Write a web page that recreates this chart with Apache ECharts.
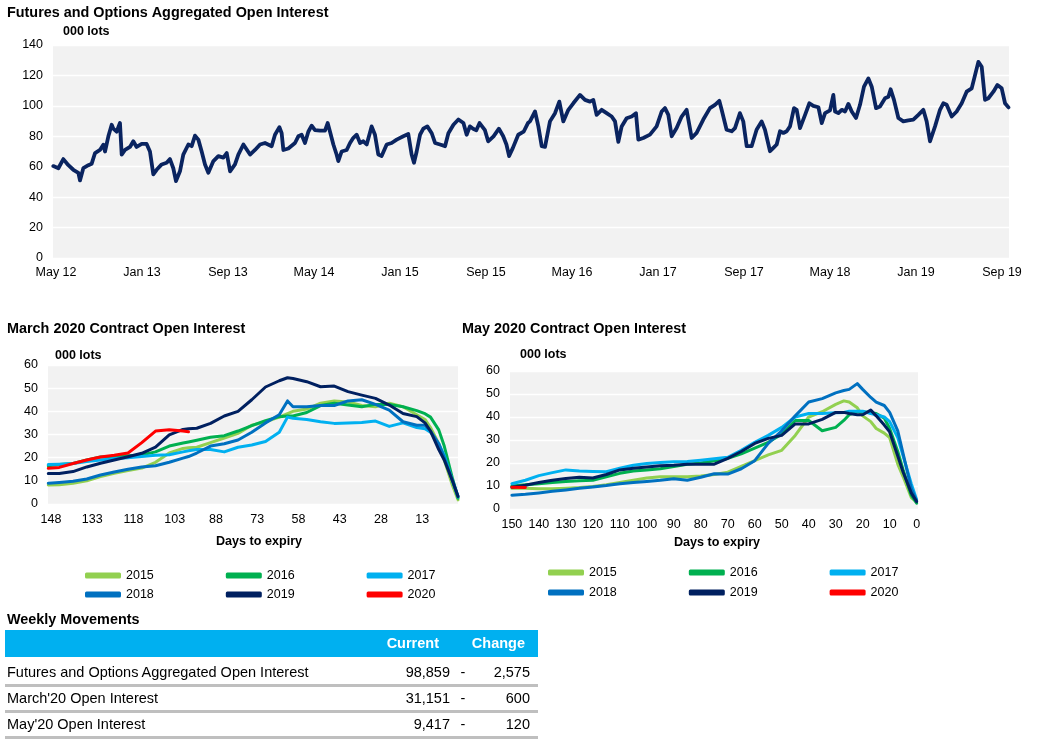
<!DOCTYPE html>
<html>
<head>
<meta charset="utf-8">
<script src="https://cdn.jsdelivr.net/npm/echarts@6/dist/echarts.min.js"></script>
<style>
  html, body { margin: 0; padding: 0; background: #fff; }
  #chart { position: absolute; left: 0; top: 0; width: 1042px; height: 749px; }
  #wm { position: absolute; left: 0; top: 0; width: 1042px; height: 749px; pointer-events: none;
        font-family: 'Liberation Sans', Arial, Helvetica, sans-serif; color: #000; }
  #wm div { position: absolute; white-space: nowrap; }
</style>
</head>
<body>
<div id="chart"></div>
<div id="wm"></div>
<script>
// ---------------- DATA ----------------
// Top chart: months since May 2012 and open interest (000 lots)
const oiMonth = [-0.25,0.22,0.68,1.15,1.61,2.08,2.23,2.54,3.01,3.32,3.63,4.09,4.40,4.56,4.87,5.18,5.33,5.64,5.95,6.11,6.42,6.88,7.19,7.50,7.97,8.43,8.74,9.05,9.36,9.83,10.29,10.6,10.91,11.16,11.53,11.84,12.31,12.62,12.93,13.24,13.55,13.86,14.17,14.64,15.1,15.57,15.88,16.19,16.65,16.96,17.43,18.05,18.51,18.98,19.44,20.06,20.37,20.78,20.99,21.15,21.61,22.23,22.54,22.85,23.16,23.47,23.78,24.09,24.56,25.02,25.27,25.49,25.8,26.1,26.26,26.57,27.04,27.35,27.66,27.97,28.28,28.59,28.9,29.36,29.67,29.98,30.29,30.76,31.22,31.69,32.31,32.77,33.08,33.3,33.55,33.86,34.17,34.54,34.95,35.26,35.72,36.19,36.5,36.97,37.43,37.9,38.2,38.5,38.8,39.1,39.4,39.9,40.2,40.7,41.2,41.6,41.9,42.15,42.5,43.0,43.5,43.9,44.09,44.56,44.87,45.18,45.49,45.95,46.42,46.82,47.19,47.66,48.12,48.74,49.21,49.67,49.98,50.29,50.76,51.22,51.69,52.0,52.31,52.62,53.08,53.55,53.95,54.17,54.63,55.25,55.87,56.34,56.65,56.96,57.27,57.73,58.2,58.66,59.13,59.59,60.21,60.83,61.3,61.7,61.92,62.38,62.85,63.16,63.62,63.93,64.25,64.71,65.17,65.64,65.95,66.42,66.73,67.04,67.35,67.66,67.97,68.28,68.65,68.9,69.21,69.68,70.08,70.45,70.92,71.23,71.54,72.0,72.31,72.47,72.78,73.09,73.4,73.71,74.02,74.42,74.79,75.16,75.57,75.88,76.28,76.65,77.12,77.43,77.64,77.95,78.36,78.82,79.29,79.75,80.22,80.68,80.99,81.3,81.77,82.23,82.54,82.85,83.32,83.78,84.25,84.71,85.18,85.49,85.8,86.11,86.42,86.73,87.2,87.57,87.97,88.28,88.6];
const oiLots = [60.4,59,65,61,58,56,51,59,61,62,69,71,74.5,70,80,87.6,85,83,88.7,68,71,73,76.7,73,75,75,70,55,58,61.5,62.6,65,59,50.6,57,68,74.6,73.5,80.4,77.8,70,61.5,56,63.7,67,66,69,57,61.5,68,74.6,68,71,74.6,75.6,73.5,81,86,82,71,72,75.6,80,81,75.6,83,87,84,83.7,83.7,88.7,83,74.6,68,63.7,70,71,75.6,79,81,75.6,76.7,74.6,86.5,81,68,67,74.6,75.6,77.8,80,81.5,68,62.6,70,81,85,86.5,82,75.6,74.6,73.5,82,87.6,91,88.7,81,86.5,85,84,88.7,84,76.7,80,85,80,74.6,67,72.4,81,83,88.7,89.8,96.3,86.5,73.5,73.0,89.8,95.2,102.8,89.8,97.4,101.7,107.2,103.9,102.8,103.9,94.1,97.4,95.2,93.0,89.8,76.3,86.5,91.9,93.0,95.2,77.8,78.9,81.1,86.5,96.3,98.5,94.1,80.0,85.4,93.0,97.4,78.9,82.2,91.0,98.5,100.7,103.3,97.4,84.3,83.3,85.4,95.2,89.8,73.5,73.5,84.3,89.8,84.3,70.2,72.4,74.6,83.3,82.2,83.3,86.5,98.5,97.4,85.4,94.1,101.7,100,99.1,88.7,95.2,97,107.2,96.3,95.2,97.4,96.3,101.3,96.3,92,100.7,112.6,118,112.6,98.5,99.6,105,106,110.9,103.9,92,89.8,90.4,90.9,94.1,97.4,89.8,76.7,86.5,97.4,101.7,100.7,93,96.3,101.7,109.3,111.5,120.2,128.9,125.7,103.9,105,109.3,113.7,111.5,101.7,99];
const topTickMonths = [0,8,16,24,32,40,48,56,64,72,80,88];
const topTickLabels = ['May 12','Jan 13','Sep 13','May 14','Jan 15','Sep 15','May 16','Jan 17','Sep 17','May 18','Jan 19','Sep 19'];

// March 2020 contract (days to expiry)
const marchDays = [149,145,140,135,130,125,120,115,110,105,100,98,95,90,85,80,75,70,65,62,60,55,50,45,40,35,30,25,20,15,12,10,7,5,2,0];
const mar2015 = [8.2,8.3,9,10,11.8,13.3,14.5,15.5,18,22,24,24.3,24.5,26.5,28.5,30.5,34,35.5,37.5,39,40,41,43.5,44.5,44,42.5,42,43.5,42,38.5,36.5,33,26,19,8,1.8];
const mar2016 = [16.5,17,17.5,19,20.3,20.5,20.8,21.2,22.5,25,26.3,26.8,27.5,28.8,29.5,31.5,33.8,36,37.7,38,38,39.5,42.5,43.5,42.7,42,43,43,42,40.3,39,37.5,32,25,11,2.5];
const mar2017 = [17,17.2,17.5,18.3,19,19.6,20,20.5,21,21.3,22.5,23,23.5,23.5,22.5,24.5,25.5,27,31,37.5,37,36.5,35.5,34.8,35,35.2,35.8,33.5,35,33,32.5,31,26,21,10,3];
const mar2018 = [9,9.3,9.8,10.8,12.5,13.8,15,16,16.5,18,19.8,20.5,22,25,26,27.6,31,35,38.5,44.5,42,42,42.5,42.5,44.5,45,43,40.5,35.5,34,34,31.5,26,20,10,3.5];
const mar2019 = [13.2,13.2,14,16,17.6,19,20.4,21.9,24.5,29.8,32.2,32.5,32.7,34.8,38,40,45,50.5,53.2,54.5,54.2,52.8,50.6,50.9,48.5,47,45.6,42.7,39.1,37.7,35,31.5,23.5,19,10,3.2];
const mar2020 = [15.4,15.8,17.5,19,20.3,21,22,26.5,31.5,32,31.5,31.2];
const marchTicks = [148,133,118,103,88,73,58,43,28,13];

// May 2020 contract
const mayDays = [150,145,140,135,130,125,120,115,110,105,100,95,90,85,80,75,70,65,60,55,50,45,40,35,30,27,25,22,20,17,15,12,10,7,5,2,0];
const may2015 = [9,9,8.8,8.8,9,9.3,9.8,10.5,11.5,12.5,13.5,14,14,14,14.3,15,16,18.5,21,23.5,25.5,32,40,42.3,45.5,47,46.5,44,40.5,38,35,33,31,19.5,14,5,3];
const may2016 = [10,10.5,11,11.5,12,12.3,12.5,14,15.5,16.5,17,17.5,18.5,19.5,20,21,22,24,26.5,29,32.5,38.5,38.5,34,35.5,38.5,41,42.3,42.3,41.8,41.5,39.5,35,25,17,6,2.5];
const may2017 = [11,12.5,14.5,15.8,17,16.5,16.3,16.2,17.7,19,19.8,20.2,20.5,20.7,21.2,21.8,22.5,25.5,29,32,35.5,40,41.5,41.5,41.8,42,42.5,42.5,42.5,41.5,41,40,38,31,23,11,4];
const may2018 = [6,6.4,7,7.7,8.3,9,9.6,10.2,11,11.5,12,12.5,13.2,12.5,13.8,15.3,15.2,17.5,21,28.5,34,40.5,46.5,48,50.5,51.5,52,54.5,52,48.5,46.5,45,42,34,24,9,3.5];
const may2019 = [9.5,10.3,11.5,12.5,13.3,13.8,13.5,15,17,17.7,18.3,18.8,19,19.5,19.5,19.5,22,25,28.5,30.7,32,37,37,39,42,42,41.5,41,41,43,40.5,36.5,33.5,23,16,7,3.2];
const may2020 = [9.5,9.4];
const mayTicks = [150,140,130,120,110,100,90,80,70,60,50,40,30,20,10,0];

const years = ['2015','2016','2017','2018','2019','2020'];
const yearColors = ['#92d050','#00b050','#00b0f0','#0070c0','#002060','#ff0000'];

// Weekly movements table
const wmLabels = ['Futures and Options Aggregated Open Interest', "March'20 Open Interest", "May'20 Open Interest"];
const wmCurrent = ['98,859','31,151','9,417'];
const wmSign = ['-','-','-'];
const wmChange = ['2,575','600','120'];

// ---------------- CHART ----------------
const FONT = 'Liberation Sans, Arial, Helvetica, sans-serif';
const chart = echarts.init(document.getElementById('chart'));

function pairs(xs, ys) {
  const out = [];
  for (let i = 0; i < ys.length; i++) if (ys[i] != null) out.push([xs[i], ys[i]]);
  return out;
}
const labelStyle = { color: '#000', fontSize: 12.5, fontFamily: FONT };

function valueYAxis(gridIndex, max, interval) {
  return {
    type: 'value', gridIndex, min: 0, max, interval,
    axisLine: { show: false }, axisTick: { show: false },
    axisLabel: Object.assign({ margin: 10 }, labelStyle),
    splitLine: { show: true, lineStyle: { color: '#ffffff', width: 1.3 } }
  };
}

const marSets = [mar2015, mar2016, mar2017, mar2018, mar2019, mar2020];
const maySets = [may2015, may2016, may2017, may2018, may2019, may2020];

const series = [{
  type: 'line', name: 'Open interest', xAxisIndex: 0, yAxisIndex: 0,
  data: pairs(oiMonth, oiLots), showSymbol: false, silent: true,
  lineStyle: { width: 3.8, color: '#0a2460', join: 'round', cap: 'round' },
  color: '#0a2460'
}];
years.forEach((y, k) => {
  series.push({
    type: 'line', name: y, xAxisIndex: 1, yAxisIndex: 1,
    data: pairs(marchDays, marSets[k]), showSymbol: false, silent: true,
    color: yearColors[k], lineStyle: { width: 3, color: yearColors[k], join: 'round', cap: 'round' }
  });
});
years.forEach((y, k) => {
  series.push({
    type: 'line', name: y, xAxisIndex: 2, yAxisIndex: 2,
    data: pairs(mayDays, maySets[k]), showSymbol: false, silent: true,
    color: yearColors[k], lineStyle: { width: 3, color: yearColors[k], join: 'round', cap: 'round' }
  });
});

function legendRow(names, left, top) {
  return {
    data: names, left, top, orient: 'horizontal', icon: 'roundRect',
    itemWidth: 36, itemHeight: 6, itemGap: 72, padding: 0, selectedMode: false,
    textStyle: { fontSize: 12.5, color: '#000', fontFamily: FONT, width: 30 }
  };
}

function txt(x, y, text, font, align) {
  return { type: 'text', x, y, silent: true,
    style: { text, font, fill: '#000', verticalAlign: 'middle', align: align || 'left' } };
}

const TITLE = 'bold 14.4px ' + FONT;
const UNIT = 'bold 12.5px ' + FONT;
const AXN = 'bold 12.6px ' + FONT;

const option = {
  animation: false,
  textStyle: { fontFamily: FONT },
  grid: [
    { left: 53, top: 45, width: 956, height: 213, show: true, backgroundColor: '#f2f2f2', borderWidth: 0 },
    { left: 48, top: 365, width: 410, height: 139, show: true, backgroundColor: '#f2f2f2', borderWidth: 0 },
    { left: 510, top: 371, width: 408, height: 138, show: true, backgroundColor: '#f2f2f2', borderWidth: 0 }
  ],
  xAxis: [
    { type: 'value', gridIndex: 0, min: -0.28, max: 88.65,
      axisLine: { show: false }, axisTick: { show: false }, splitLine: { show: false },
      axisLabel: Object.assign({ margin: 8, customValues: topTickMonths,
        formatter: v => topTickLabels[Math.round(v / 8)] }, labelStyle) },
    { type: 'value', gridIndex: 1, min: 0, max: 149.1, inverse: true,
      axisLine: { show: false }, axisTick: { show: false }, splitLine: { show: false },
      axisLabel: Object.assign({ margin: 9, customValues: marchTicks }, labelStyle) },
    { type: 'value', gridIndex: 2, min: -0.5, max: 150.7, inverse: true,
      axisLine: { show: false }, axisTick: { show: false }, splitLine: { show: false },
      axisLabel: Object.assign({ margin: 9, customValues: mayTicks }, labelStyle) }
  ],
  yAxis: [ valueYAxis(0, 140, 20), valueYAxis(1, 60, 10), valueYAxis(2, 60, 10) ],
  legend: [
    legendRow(years.slice(0, 3), 85, 569),
    legendRow(years.slice(3), 85, 588),
    legendRow(years.slice(0, 3), 548, 566),
    legendRow(years.slice(3), 548, 586)
  ],
  graphic: [
    txt(7, 13, 'Futures and Options Aggregated Open Interest', TITLE),
    txt(63, 32, '000 lots', UNIT),
    txt(7, 329, 'March 2020 Contract Open Interest', TITLE),
    txt(55, 356, '000 lots', UNIT),
    txt(462, 329, 'May 2020 Contract Open Interest', TITLE),
    txt(520, 355, '000 lots', UNIT),
    txt(259, 542, 'Days to expiry', AXN, 'center'),
    txt(717, 543, 'Days to expiry', AXN, 'center')
  ],
  series
};
chart.setOption(option);

// ---------------- TABLE ----------------
const wm = document.getElementById('wm');
function box(style, text) {
  const d = document.createElement('div');
  Object.assign(d.style, style);
  if (text != null) d.textContent = text;
  wm.appendChild(d);
  return d;
}
box({ left: '7px', top: '611px', fontSize: '14.4px', fontWeight: 'bold', lineHeight: '16px' }, 'Weekly Movements');
box({ left: '5px', top: '630px', width: '533px', height: '27px', background: '#00b0f0' });
box({ left: '339px', top: '630px', width: '100px', textAlign: 'right', lineHeight: '27px', fontSize: '14.5px', fontWeight: 'bold', color: '#fff' }, 'Current');
box({ left: '425px', top: '630px', width: '100px', textAlign: 'right', lineHeight: '27px', fontSize: '14.5px', fontWeight: 'bold', color: '#fff' }, 'Change');
wmLabels.forEach((lab, i) => {
  const cy = 672 + i * 26;
  const top = (cy - 9) + 'px';
  box({ left: '7px', top, lineHeight: '18px', fontSize: '14.5px' }, lab);
  box({ left: '350px', top, width: '100px', textAlign: 'right', lineHeight: '18px', fontSize: '14.5px' }, wmCurrent[i]);
  box({ left: '455px', top, width: '16px', textAlign: 'center', lineHeight: '18px', fontSize: '14.5px' }, wmSign[i]);
  box({ left: '430px', top, width: '100px', textAlign: 'right', lineHeight: '18px', fontSize: '14.5px' }, wmChange[i]);
  box({ left: '5px', top: (cy + 12) + 'px', width: '533px', height: '3px', background: '#bfbfbf' });
});
</script>
</body>
</html>
